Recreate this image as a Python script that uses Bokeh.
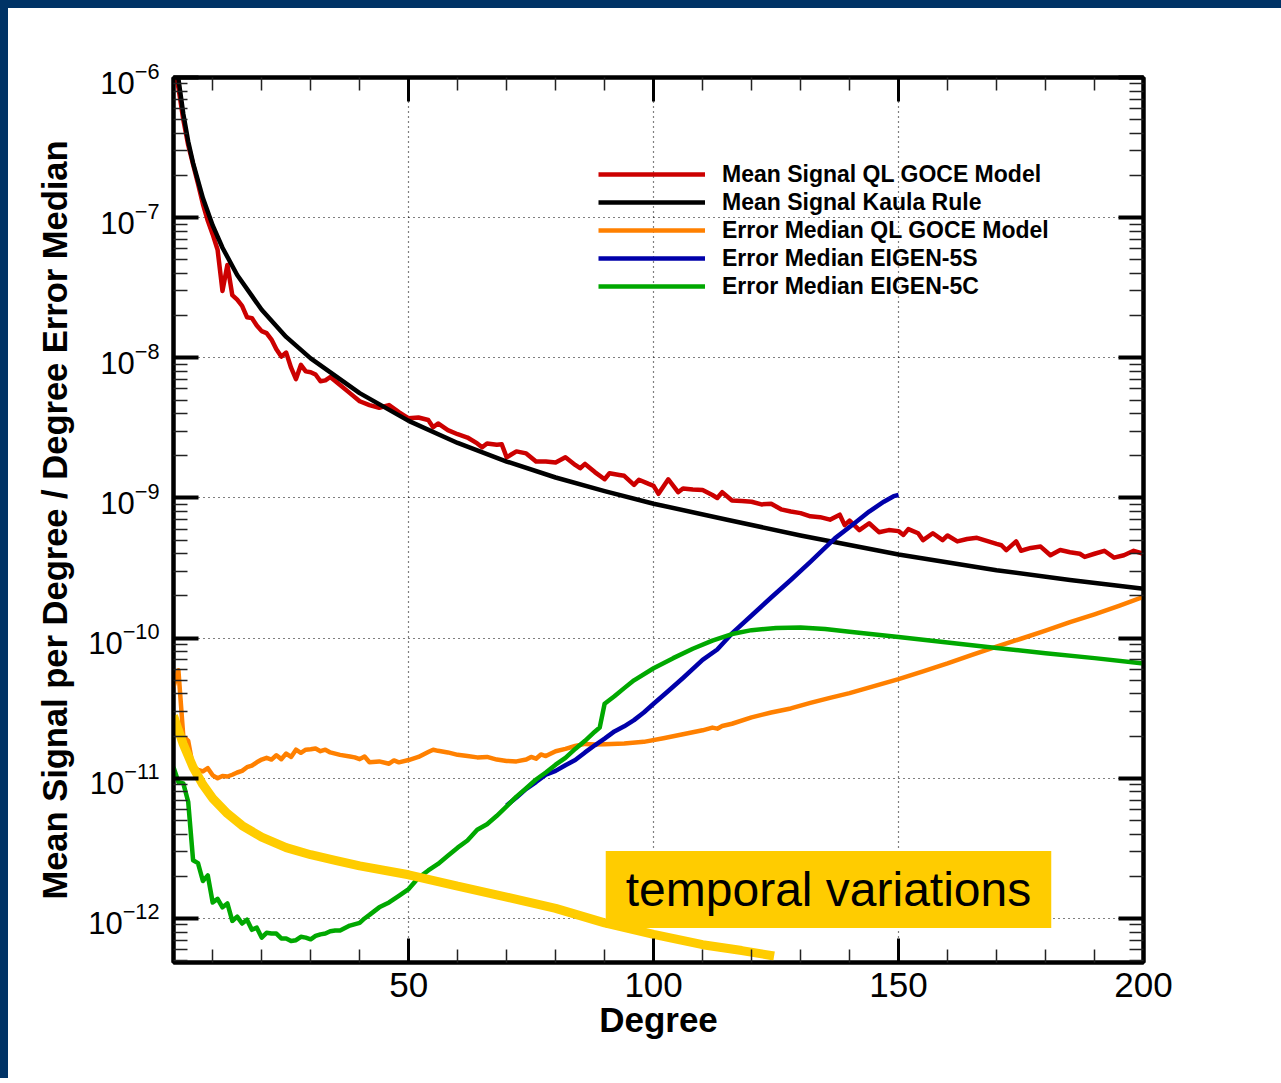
from bokeh.plotting import figure
from bokeh.models import (Range1d, LogAxis, LinearAxis, FixedTicker, LogTickFormatter,
                          CustomJSTickFormatter, Legend, LegendItem, Label)
from bokeh.embed import file_html
from bokeh.resources import INLINE

# ---------------- data ----------------
red_deg = [2, 3, 4, 5, 6, 7, 8, 9, 10, 11, 12, 13, 14, 15, 16, 17, 18, 19, 20, 21, 22, 23, 24, 25,
           26, 27, 28, 29, 30, 31, 32, 33, 34, 36, 38, 40, 42, 44, 46, 48, 50, 52, 54, 55, 56, 58,
           60, 62, 64, 65, 66, 68, 69, 70, 72, 74, 76, 78, 80, 82, 84, 85, 86, 88, 90, 91, 93, 94,
           96, 97, 99, 100, 101, 103, 105, 106, 108, 110, 112, 113, 114, 116, 118, 120, 122, 124,
           126, 128, 130, 132, 134, 136, 138, 139, 140, 142, 144, 146, 148, 150, 151, 152, 154,
           155, 157, 159, 160, 162, 164, 166, 168, 170, 171, 172, 174, 175, 177, 179, 181, 183,
           185, 187, 188, 190, 192, 194, 196, 198, 200]
red_val = [1.2e-6, 8.5e-7, 5.0e-7, 3.3e-7, 2.4e-7, 1.75e-7, 1.25e-7, 9.5e-8, 7.6e-8, 5.9e-8,
           3.0e-8, 4.6e-8, 2.8e-8, 2.6e-8, 2.35e-8, 1.95e-8, 1.92e-8, 1.7e-8, 1.55e-8, 1.5e-8,
           1.35e-8, 1.15e-8, 1.02e-8, 1.09e-8, 8.5e-9, 7.05e-9, 8.9e-9, 8.0e-9, 7.9e-9, 7.6e-9,
           6.8e-9, 6.9e-9, 7.3e-9, 6.4e-9, 5.6e-9, 4.9e-9, 4.6e-9, 4.4e-9, 4.6e-9, 4.1e-9, 3.7e-9,
           3.75e-9, 3.6e-9, 3.2e-9, 3.4e-9, 3.05e-9, 2.85e-9, 2.7e-9, 2.45e-9, 2.3e-9, 2.45e-9,
           2.4e-9, 2.42e-9, 1.95e-9, 2.15e-9, 2.08e-9, 1.82e-9, 1.82e-9, 1.79e-9, 1.95e-9, 1.72e-9,
           1.63e-9, 1.75e-9, 1.53e-9, 1.36e-9, 1.5e-9, 1.46e-9, 1.44e-9, 1.24e-9, 1.35e-9, 1.26e-9,
           1.22e-9, 1.07e-9, 1.36e-9, 1.1e-9, 1.17e-9, 1.15e-9, 1.14e-9, 1.05e-9, 1.0e-9, 1.1e-9,
           9.6e-10, 9.5e-10, 9.4e-10, 9.0e-10, 9.1e-10, 8.3e-10, 8.0e-10, 7.8e-10, 7.4e-10, 7.3e-10,
           7.0e-10, 7.6e-10, 6.4e-10, 6.9e-10, 5.9e-10, 6.6e-10, 5.7e-10, 5.9e-10, 5.8e-10, 5.45e-10,
           6.0e-10, 5.6e-10, 5.0e-10, 5.6e-10, 5.0e-10, 5.4e-10, 4.9e-10, 5.1e-10, 5.2e-10, 4.95e-10,
           4.7e-10, 4.6e-10, 4.25e-10, 4.9e-10, 4.2e-10, 4.4e-10, 4.5e-10, 3.9e-10, 4.25e-10, 4.1e-10,
           4.0e-10, 3.8e-10, 4.0e-10, 4.2e-10, 3.75e-10, 3.9e-10, 4.2e-10, 4.0e-10]

kaula_deg = [2, 3, 4, 5, 6, 8, 10, 12, 15, 20, 25, 30, 40, 50, 60, 70, 80, 90, 100, 115, 130,
             150, 170, 185, 200]
kaula_val = [2.2e-6, 9.8e-7, 5.5e-7, 3.5e-7, 2.45e-7, 1.38e-7, 8.8e-8, 6.1e-8, 3.9e-8, 2.2e-8,
             1.41e-8, 9.9e-9, 5.6e-9, 3.55e-9, 2.47e-9, 1.82e-9, 1.4e-9, 1.12e-9, 9.1e-10, 7.0e-10,
             5.4e-10, 3.95e-10, 3.05e-10, 2.6e-10, 2.25e-10]

goce_err_deg = [2, 3, 4, 5, 6, 7, 8, 9, 10, 11, 12, 13, 14, 15, 16, 17, 18, 19, 20, 21, 22, 23,
                24, 25, 26, 27, 28, 29, 30, 31, 32, 33, 34, 36, 38, 39, 40, 41, 42, 44, 46, 47, 48,
                50, 52, 54, 55, 56, 58, 60, 62, 64, 66, 68, 70, 72, 74, 75, 76, 77, 78, 80, 82, 84,
                86, 88, 90, 94, 98, 102, 106, 110, 112, 113, 114, 116, 120, 124, 128, 132, 136, 140,
                145, 150, 155, 160, 165, 170, 175, 180, 185, 190, 195, 200]
goce_err_val = [4.5e-11, 5.9e-11, 2.0e-11, 1.85e-11, 1.2e-11, 1.15e-11, 1.12e-11, 1.18e-11,
                1.05e-11, 1.0e-11, 1.04e-11, 1.03e-11, 1.06e-11, 1.1e-11, 1.13e-11, 1.2e-11,
                1.23e-11, 1.3e-11, 1.36e-11, 1.4e-11, 1.36e-11, 1.46e-11, 1.37e-11, 1.5e-11,
                1.42e-11, 1.6e-11, 1.52e-11, 1.6e-11, 1.61e-11, 1.63e-11, 1.56e-11, 1.6e-11,
                1.53e-11, 1.47e-11, 1.43e-11, 1.41e-11, 1.37e-11, 1.43e-11, 1.3e-11, 1.32e-11,
                1.27e-11, 1.34e-11, 1.3e-11, 1.35e-11, 1.42e-11, 1.54e-11, 1.6e-11, 1.57e-11,
                1.53e-11, 1.47e-11, 1.44e-11, 1.41e-11, 1.42e-11, 1.36e-11, 1.33e-11, 1.32e-11,
                1.36e-11, 1.42e-11, 1.38e-11, 1.48e-11, 1.44e-11, 1.56e-11, 1.62e-11, 1.7e-11,
                1.76e-11, 1.74e-11, 1.75e-11, 1.77e-11, 1.82e-11, 1.93e-11, 2.06e-11, 2.2e-11,
                2.3e-11, 2.26e-11, 2.36e-11, 2.45e-11, 2.72e-11, 2.95e-11, 3.15e-11, 3.45e-11,
                3.75e-11, 4.05e-11, 4.55e-11, 5.1e-11, 5.8e-11, 6.6e-11, 7.6e-11, 8.7e-11, 9.9e-11,
                1.13e-10, 1.3e-10, 1.48e-10, 1.7e-10, 1.97e-10]

e5s_deg = [70, 72, 74, 76, 78, 80, 82, 84, 86, 88, 90, 92, 94, 96, 98, 100, 103, 106, 110, 113,
           116, 120, 124, 128, 132, 137, 141, 144, 147, 149, 150]
e5s_val = [6.4e-12, 7.3e-12, 8.4e-12, 9.4e-12, 1.06e-11, 1.13e-11, 1.24e-11, 1.35e-11, 1.53e-11,
           1.72e-11, 1.92e-11, 2.16e-11, 2.35e-11, 2.6e-11, 2.95e-11, 3.4e-11, 4.2e-11, 5.2e-11,
           7.0e-11, 8.3e-11, 1.08e-10, 1.45e-10, 1.95e-10, 2.6e-10, 3.5e-10, 5.15e-10, 6.6e-10,
           8.0e-10, 9.4e-10, 1.03e-9, 1.05e-9]

e5c_deg = [2, 3, 4, 5, 6, 7, 8, 9, 10, 11, 12, 13, 14, 15, 16, 17, 18, 19, 20, 21, 22, 23, 24, 25,
           26, 27, 28, 29, 30, 31, 32, 33, 34, 35, 36, 38, 40, 41, 42, 44, 46, 48, 50, 52, 54, 56,
           58, 60, 62, 64, 66, 68, 70, 72, 74, 76, 78, 80, 82, 84, 86, 88, 89, 90, 92, 94, 96, 100,
           104, 108, 112, 116, 120, 125, 130, 135, 140, 150, 160, 170, 180, 190, 200]
e5c_val = [1.2e-11, 9.4e-12, 9.2e-12, 6.8e-12, 2.6e-12, 2.48e-12, 1.85e-12, 2.03e-12, 1.3e-12,
           1.38e-12, 1.2e-12, 1.28e-12, 9.6e-13, 1.03e-12, 9.2e-13, 9.8e-13, 8.3e-13, 8.6e-13,
           7.3e-13, 7.9e-13, 7.8e-13, 7.8e-13, 7.2e-13, 7.2e-13, 6.9e-13, 7.0e-13, 7.4e-13, 7.3e-13,
           7.1e-13, 7.5e-13, 7.7e-13, 7.8e-13, 8.1e-13, 8.2e-13, 8.2e-13, 8.9e-13, 9.3e-13, 1.0e-12,
           1.06e-12, 1.2e-12, 1.3e-12, 1.45e-12, 1.62e-12, 1.95e-12, 2.2e-12, 2.45e-12, 2.8e-12,
           3.2e-12, 3.6e-12, 4.3e-12, 4.7e-12, 5.4e-12, 6.3e-12, 7.4e-12, 8.5e-12, 9.8e-12, 1.1e-11,
           1.25e-11, 1.4e-11, 1.62e-11, 1.85e-11, 2.15e-11, 2.3e-11, 3.4e-11, 3.85e-11, 4.4e-11,
           5.0e-11, 6.1e-11, 7.2e-11, 8.4e-11, 9.6e-11, 1.07e-10, 1.14e-10, 1.18e-10, 1.19e-10,
           1.16e-10, 1.11e-10, 1.02e-10, 9.3e-11, 8.5e-11, 7.8e-11, 7.2e-11, 6.6e-11]

temporal_deg = [2, 3, 4, 5, 6, 8, 10, 13, 16, 20, 25, 30, 35, 40, 50, 60, 70, 80, 90, 100, 110,
                118, 124.6]
temporal_val = [2.8e-11, 2.2e-11, 1.75e-11, 1.45e-11, 1.2e-11, 9.0e-12, 7.2e-12, 5.6e-12, 4.6e-12,
                3.8e-12, 3.2e-12, 2.85e-12, 2.6e-12, 2.37e-12, 2.05e-12, 1.7e-12, 1.42e-12,
                1.18e-12, 9.3e-13, 7.7e-13, 6.5e-13, 5.9e-13, 5.4e-13]

series_labels = ["Mean Signal QL GOCE Model", "Mean Signal Kaula Rule",
                 "Error Median QL GOCE Model", "Error Median EIGEN-5S", "Error Median EIGEN-5C"]
annotation_text = "temporal variations"
annotation_pos = (135.7, 1.61e-12)

x_major = [50, 100, 150, 200]
x_minor = [10, 20, 30, 40, 60, 70, 80, 90, 110, 120, 130, 140, 160, 170, 180, 190]
y_major = [1e-12, 1e-11, 1e-10, 1e-9, 1e-8, 1e-7, 1e-6]
y_minor = [k * 10.0 ** e for e in range(-13, -6) for k in range(2, 10)]

# ---------------- figure ----------------
FONT = "Liberation Sans"

p = figure(width=1273, height=1070, x_range=Range1d(2, 200), y_range=Range1d(4.85e-13, 1e-6),
           y_axis_type="log", output_backend="svg", toolbar_location=None,
           min_border_left=165, min_border_right=138, min_border_top=69, min_border_bottom=116)
p.styles = {"margin-left": "8px", "margin-top": "8px",
            "box-shadow": "-8px -8px 0px 8px #003366"}
p.background_fill_color = "white"
p.border_fill_color = "white"
p.outline_line_color = "black"
p.outline_line_width = 4

x_ticker = FixedTicker(ticks=x_major, minor_ticks=x_minor)
y_ticker = FixedTicker(ticks=y_major, minor_ticks=y_minor)

xa = p.xaxis[0]
xa.ticker = x_ticker
xa.axis_label = "Degree"
ya = p.yaxis[0]
ya.ticker = y_ticker
ya.formatter = LogTickFormatter()
ya.axis_label = "Mean Signal per Degree / Degree Error Median"

top = LinearAxis(ticker=x_ticker, formatter=CustomJSTickFormatter(code="return ''"))
right = LogAxis(ticker=y_ticker, formatter=CustomJSTickFormatter(code="return ''"))
p.add_layout(top, "above")
p.add_layout(right, "right")

for ax in (xa, top):
    ax.major_tick_in = 24
    ax.major_tick_out = 0
    ax.minor_tick_in = 13
    ax.minor_tick_out = 0
    ax.major_tick_line_width = 3
    ax.minor_tick_line_width = 1.5
for ax in (ya, right):
    ax.major_tick_in = 25
    ax.major_tick_out = 0
    ax.minor_tick_in = 14
    ax.minor_tick_out = 0
    ax.major_tick_line_width = 4
    ax.minor_tick_line_width = 1.5
for ax in (xa, top, ya, right):
    ax.axis_line_color = "black"
    ax.axis_line_width = 4
    ax.major_tick_line_color = "black"
    ax.minor_tick_line_color = "#222222"

xa.major_label_text_font = FONT
xa.major_label_text_font_size = "35px"
xa.major_label_text_color = "black"
xa.major_label_standoff = 10
xa.axis_label_text_font = FONT
xa.axis_label_text_font_style = "bold"
xa.axis_label_text_font_size = "35px"
xa.axis_label_text_color = "black"
xa.axis_label_standoff = 0

ya.major_label_text_font = FONT
ya.major_label_text_font_size = "31px"
ya.major_label_text_color = "black"
ya.major_label_standoff = 14
ya.axis_label_text_font = FONT
ya.axis_label_text_font_style = "bold"
ya.axis_label_text_font_size = "34.5px"
ya.axis_label_text_color = "black"
ya.axis_label_standoff = 11

for g in (p.xgrid[0], p.ygrid[0]):
    g.grid_line_color = "black"
    g.grid_line_width = 1.2
    g.grid_line_dash = "1 4"

# ---------------- series ----------------
LW = 4.5
r_red = p.line(red_deg, red_val, line_color="#cc0000", line_width=LW, line_join="round")
r_blk = p.line(kaula_deg, kaula_val, line_color="black", line_width=LW, line_join="round")
r_org = p.line(goce_err_deg, goce_err_val, line_color="#ff8000", line_width=LW, line_join="round")
r_blu = p.line(e5s_deg, e5s_val, line_color="#0000aa", line_width=LW, line_join="round")
r_grn = p.line(e5c_deg, e5c_val, line_color="#00a800", line_width=LW, line_join="round")
p.line(temporal_deg, temporal_val, line_color="#ffcc00", line_width=9)

legend = Legend(
    items=[LegendItem(label=lbl, renderers=[r])
           for lbl, r in zip(series_labels, [r_red, r_blk, r_org, r_blu, r_grn])],
    location=(425, 662), padding=0, margin=0, spacing=0,
    glyph_width=107, glyph_height=28, label_height=28, label_standoff=17,
    label_text_font=FONT, label_text_font_style="bold", label_text_font_size="23px",
    label_text_color="black",
    border_line_color=None, background_fill_alpha=0,
)
p.add_layout(legend)

lab = Label(x=annotation_pos[0], y=annotation_pos[1], text=annotation_text,
            text_align="center", text_baseline="middle", text_font=FONT,
            text_font_size="48px", text_color="black",
            background_fill_color="#ffcc00",
            padding=dict(left=20, right=20, top=12, bottom=12))
p.add_layout(lab)

open("out.html", "w").write(file_html(p, INLINE))
